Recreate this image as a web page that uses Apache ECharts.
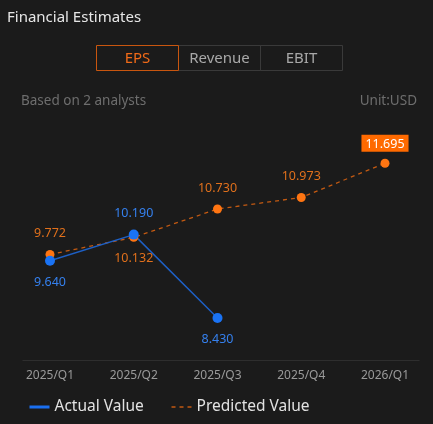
<!DOCTYPE html>
<html>
<head>
<meta charset="utf-8">
<script src="https://cdn.jsdelivr.net/npm/echarts@6/dist/echarts.min.js"></script>
<style>
    html, body {margin: 0; padding: 0; background: #1b1b1b;}
    #chart {width: 433px; height: 424px;}
</style>
</head>
<body>
<div id="chart"></div>
<script>
// 季度
const quarters = ['2025/Q1', '2025/Q2', '2025/Q3', '2025/Q4', '2026/Q1'];
// 实际值 (没有的季度为 null)
const actualValues = [9.640, 10.190, 8.430, null, null];
// 预测值
const predictedValues = [9.772, 10.132, 10.730, 10.973, 11.695];
const tabs = ['EPS', 'Revenue', 'EBIT'];

const FONT = '"Noto Sans", "Open Sans", sans-serif';
const BLUE = '#1a73f5';
const ORANGE = '#ff7512';

let chart = echarts.init(document.getElementById('chart'), null, {renderer: 'canvas'});

// 实际值大于预测值时标签放上面
function actualPos(i) {
    return actualValues[i] >= predictedValues[i] ? 'top' : 'bottom';
}

let actualData = actualValues.map((v, i) => {
    if (v === null) return null;
    return {value: v, label: {position: actualPos(i)}};
});

let predictedData = predictedValues.map((v, i) => {
    let pos = actualValues[i] === null ? 'top' : (actualPos(i) === 'top' ? 'bottom' : 'top');
    let item = {value: v, label: {position: pos}};
    if (i === predictedValues.length - 1) {
        item.label = {
            position: 'top', color: '#fff', backgroundColor: '#ff6a00',
            padding: [3, 4, 1, 4], distance: 7
        };
    }
    return item;
});

// 顶部按钮
let tabGraphics = tabs.map((t, i) => {
    let active = i === 0;
    return {
        type: 'group',
        left: 96 + i * 82,
        top: 45,
        children: [
            {
                type: 'rect',
                shape: {x: 0, y: 0, width: 82, height: 25},
                style: {fill: 'transparent', stroke: active ? '#c9560f' : '#3a3a3a', lineWidth: 1},
                z: active ? 2 : 1
            },
            {
                type: 'text',
                x: 41, y: 13,
                style: {
                    text: t, fill: active ? '#f06a18' : '#a8a8a8',
                    font: '15px ' + FONT, align: 'center', verticalAlign: 'middle'
                },
                z: 3
            }
        ]
    };
});

let option = {
    backgroundColor: '#1b1b1b',
    animation: false,
    title: {
        text: 'Financial Estimates',
        left: 7, top: 10, padding: 0,
        textStyle: {color: '#e6e6e6', fontSize: 15, fontWeight: 'normal', fontFamily: FONT}
    },
    graphic: tabGraphics.concat([
        {
            type: 'text', left: 21, top: 94,
            style: {text: 'Based on 2 analysts', fill: '#6e6e6e', font: '13.5px ' + FONT}
        },
        {
            type: 'text', right: 16, top: 94,
            style: {text: 'Unit:USD', fill: '#6e6e6e', font: '13.5px ' + FONT}
        },
        {
            type: 'line', left: 20, top: 358,
            shape: {x1: 0, y1: 0, x2: 397, y2: 0},
            style: {stroke: '#2e2e2e', lineWidth: 1}
        }
    ]),
    legend: {
        left: 28, bottom: 9, padding: 0,
        itemWidth: 20, itemHeight: 10, itemGap: 27,
        itemStyle: {opacity: 0},
        textStyle: {color: '#e2e2e2', fontSize: 15.5, fontFamily: FONT},
        data: [
            {name: 'Actual Value', lineStyle: {width: 3, color: '#1a6ff0'}},
            {name: 'Predicted Value', lineStyle: {width: 1.5}}
        ]
    },
    grid: {left: 50, right: 48, top: 130, bottom: 66},
    xAxis: {
        type: 'category',
        boundaryGap: false,
        data: quarters,
        axisLine: {show: false},
        axisTick: {show: false},
        axisLabel: {color: '#9a9a9a', fontSize: 12, fontFamily: FONT, margin: 12}
    },
    yAxis: {
        type: 'value',
        show: false,
        min: function (v) { return v.min * 0.9; },
        max: function (v) { return v.max * 1.06; },
        splitLine: {show: false}
    },
    series: [
        {
            name: 'Predicted Value',
            type: 'line',
            data: predictedData,
            symbol: 'circle',
            symbolSize: 9,
            itemStyle: {color: ORANGE},
            lineStyle: {color: '#c35a12', width: 1.3, type: [4, 4]},
            label: {show: true, color: '#e0701c', fontSize: 12.5, fontFamily: FONT, distance: 10,
                formatter: p => p.value.toFixed(3)}
        },
        {
            name: 'Actual Value',
            type: 'line',
            data: actualData,
            symbol: 'circle',
            symbolSize: 10,
            itemStyle: {color: BLUE},
            lineStyle: {color: '#1d5fc4', width: 1.5},
            label: {show: true, color: '#3580ee', fontSize: 12.5, fontFamily: FONT, distance: 10,
                formatter: p => p.value.toFixed(3)}
        }
    ]
};

chart.setOption(option);
</script>
</body>
</html>
